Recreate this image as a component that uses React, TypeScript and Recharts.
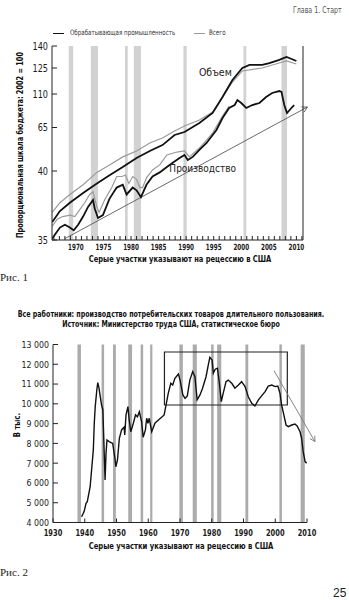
import React from "react";
import { LineChart, Line, XAxis, YAxis, ReferenceArea, ReferenceLine, ReferenceDot } from "recharts";

const NARROW = '"Liberation Sans Narrow", "DejaVu Sans Condensed", "Roboto", sans-serif';
const SERIF = '"Liberation Serif", "DejaVu Serif", serif';

// ---- Рис. 1 ----
// [год, индекс]
const capacityMfg: [number, number][] = [
  [1965.7, 36.3], [1967.1, 37.1], [1968.9, 37.7], [1971.3, 38.4], [1973.8, 39.1], [1976.1, 39.7],
  [1978.5, 42.3], [1981.0, 47.5], [1983.4, 51.5], [1985.7, 54.9], [1987.9, 60.7], [1989.7, 62.4],
  [1992.4, 71.0], [1994.8, 84.5], [1996.6, 106.0], [1998.4, 118.1], [2000.2, 125.0], [2001.5, 127.1],
  [2003.8, 127.1], [2005.1, 128.4], [2006.9, 130.5], [2008.2, 132.5], [2008.7, 131.8], [2010.0, 129.8],
];
const capacityAll: [number, number][] = [
  [1965.7, 37.0], [1967.1, 37.7], [1968.9, 38.3], [1971.3, 39.0], [1973.8, 39.9], [1976.1, 43.5],
  [1978.5, 48.1], [1981.0, 51.5], [1983.4, 56.1], [1985.7, 59.0], [1987.9, 63.0], [1989.7, 67.0],
  [1992.4, 75.1], [1994.8, 85.8], [1996.6, 106.0], [1998.4, 116.9], [2000.2, 123.3], [2003.8, 125.0],
  [2006.9, 128.4], [2008.2, 129.8], [2010.0, 127.7],
];
const outputMfg: [number, number][] = [
  [1965.7, 35.1], [1966.2, 35.4], [1967.1, 35.9], [1968.0, 36.1], [1968.9, 35.9], [1969.6, 35.7],
  [1970.4, 36.1], [1971.3, 36.7], [1972.2, 37.4], [1973.1, 37.9], [1973.4, 37.3], [1974.0, 36.6],
  [1974.9, 36.8], [1976.1, 38.0], [1977.4, 38.8], [1978.5, 39.0], [1979.2, 38.3], [1980.3, 38.8],
  [1981.0, 38.6], [1981.8, 38.1], [1982.8, 39.0], [1983.9, 39.6], [1985.2, 39.9], [1986.5, 42.3],
  [1987.5, 44.6], [1988.8, 47.5], [1989.7, 49.2], [1990.3, 46.3], [1991.2, 48.1], [1992.4, 52.1],
  [1993.7, 56.1], [1995.5, 63.6], [1996.6, 77.8], [1997.8, 91.2], [1998.8, 95.2], [1999.3, 101.9],
  [2000.0, 97.9], [2000.9, 91.2], [2002.0, 95.2], [2003.3, 97.9], [2004.5, 106.0], [2005.6, 110.6],
  [2006.9, 111.7], [2007.3, 111.2], [2007.8, 95.2], [2008.3, 84.5], [2009.1, 91.2], [2009.6, 95.2],
];
const outputAll: [number, number][] = [
  [1965.7, 36.0], [1966.6, 36.5], [1967.6, 36.7], [1968.9, 36.8], [1969.8, 36.7], [1970.7, 37.2],
  [1971.6, 37.7], [1972.5, 38.3], [1973.1, 38.5], [1973.8, 37.4], [1974.2, 37.0], [1975.2, 37.9],
  [1976.5, 38.8], [1977.4, 39.6], [1978.3, 39.6], [1979.0, 39.7], [1979.6, 39.1], [1980.3, 39.6],
  [1981.0, 39.4], [1981.6, 38.8], [1982.1, 38.8], [1982.8, 39.5], [1983.9, 40.6], [1985.2, 43.5],
  [1986.5, 49.2], [1988.3, 50.9], [1989.7, 51.5], [1990.6, 48.1], [1992.4, 53.2], [1994.8, 61.8],
  [1996.6, 80.5], [1997.8, 93.9],
];
const trend1: [number, number][] = [[1968.0, 35.1], [2012.0, 92.5]];
const recessions1: [number, number][] = [
  [1968.7, 1969.5], [1972.7, 1974.0], [1978.9, 1979.4], [1980.5, 1981.8],
  [1989.5, 1990.1], [2000.4, 2000.9], [2007.3, 2008.3],
];
const yLabels1 = [35, 40, 65, 110, 125, 140];
const years1 = Array.from({ length: 46 }, (_, i) => 1966 + i);

// ---- Рис. 2 ----
// [год, тыс. работников]
const durableWorkers: [number, number][] = [
  [1939.0, 4290], [1939.8, 4550], [1940.4, 4970], [1940.8, 5050], [1941.7, 5810], [1942.2, 6740],
  [1942.7, 7670], [1943.0, 9020], [1943.3, 9860], [1943.8, 10700], [1944.1, 11070], [1944.5, 10790],
  [1944.8, 10450], [1945.3, 9940], [1945.7, 9690], [1946.1, 7670], [1946.4, 6150], [1946.7, 7500],
  [1947.0, 8170], [1947.7, 8090], [1948.3, 8040], [1948.8, 8000], [1949.5, 7250], [1949.8, 6820],
  [1950.3, 7160], [1950.9, 8260], [1951.6, 8680], [1952.4, 8820], [1952.6, 8430], [1953.0, 9440],
  [1953.6, 9860], [1954.0, 9180], [1954.5, 8590], [1955.3, 9020], [1956.0, 9440], [1956.6, 9350],
  [1957.2, 9600], [1957.9, 9100], [1958.4, 8310], [1959.1, 8680], [1959.5, 9270], [1959.9, 9020],
  [1960.3, 9270], [1961.1, 8590], [1962.1, 9020], [1963.2, 9180], [1964.2, 9320], [1965.0, 9440],
  [1965.6, 9940], [1966.3, 10530], [1967.1, 11040], [1967.7, 10950], [1968.4, 11290], [1969.5, 11510],
  [1970.0, 11210], [1970.9, 10450], [1971.6, 10280], [1972.3, 10400], [1973.1, 11200], [1974.0, 11630],
  [1974.7, 11370], [1975.4, 10200], [1976.3, 10450], [1977.1, 10790], [1978.2, 11370], [1978.9, 11960],
  [1979.4, 12350], [1980.1, 12220], [1980.5, 11550], [1981.1, 11750], [1981.8, 11800], [1982.4, 11040],
  [1983.0, 10110], [1983.6, 10530], [1984.5, 11120], [1985.2, 11200], [1986.3, 11040], [1987.3, 10790],
  [1988.4, 10950], [1989.4, 11120], [1990.5, 10870], [1991.5, 10360], [1992.6, 10030], [1993.6, 9890],
  [1994.7, 10200], [1995.7, 10400], [1996.8, 10620], [1997.8, 10900], [1998.9, 10950], [2000.0, 10870],
  [2000.8, 10900], [2001.5, 10530], [2002.0, 9940], [2002.6, 9520], [2003.4, 8930], [2004.1, 8850],
  [2005.2, 8930], [2006.2, 8980], [2006.9, 8880], [2007.8, 8590], [2008.3, 8260], [2008.8, 7580],
  [2009.4, 7080], [2009.9, 7000],
];
const box2 = { x1: 1965.1, x2: 2003.8, y1: 9940, y2: 12620 };
const trend2: [number, number][] = [[1999.6, 11680], [2012.5, 8090]];
const recessions2: [number, number][] = [
  [1937.7, 1938.8], [1945.3, 1946.1], [1948.9, 1949.8], [1953.7, 1954.9], [1957.6, 1958.4],
  [1960.6, 1961.3], [1969.8, 1970.9], [1974.0, 1975.3], [1979.8, 1980.6], [1981.7, 1983.0],
  [1990.6, 1991.5], [2001.3, 2002.1], [2008.0, 2009.3],
];
const yTicks2 = [4000, 5000, 6000, 7000, 8000, 9000, 10000, 11000, 12000, 13000];
const xTicks2 = [1930, 1940, 1950, 1960, 1970, 1980, 1990, 2000, 2010];

// нелинейная шкала рис. 1 (отметки идут неравномерно)
const scaleSteps = [0, 69, 112.5, 146, 172, 194];
function toScale(v: number) {
  for (let i = 1; i < yLabels1.length; i++) {
    if (v <= yLabels1[i] || i === yLabels1.length - 1) {
      const t = (v - yLabels1[i - 1]) / (yLabels1[i] - yLabels1[i - 1]);
      return scaleSteps[i - 1] + t * (scaleSteps[i] - scaleSteps[i - 1]);
    }
  }
  return 0;
}
const fromScale = (p: number) => String(yLabels1[scaleSteps.indexOf(p)]);

const toRows1 = (s: [number, number][]) => s.map(([year, v]) => ({ year, v: toScale(v) }));
const toRows2 = (s: [number, number][]) => s.map(([year, v]) => ({ year, v }));

function Arrow(props: any) {
  const { x1, y1, x2, y2, stroke, strokeWidth } = props;
  const a = Math.atan2(y2 - y1, x2 - x1);
  const len = 6;
  const w = 0.5;
  const p1 = `${x2 - len * Math.cos(a - w)},${y2 - len * Math.sin(a - w)}`;
  const p2 = `${x2 - len * Math.cos(a + w)},${y2 - len * Math.sin(a + w)}`;
  return (
    <g>
      <line x1={x1} y1={y1} x2={x2} y2={y2} stroke={stroke} strokeWidth={strokeWidth} />
      <polyline points={`${p1} ${x2},${y2} ${p2}`} fill="none" stroke={stroke} strokeWidth={strokeWidth} />
    </g>
  );
}

// узкие подписи делений (в оригинале сжатый шрифт)
function makeTick(opts: { anchor: "middle" | "end"; dy: string; size: number; weight: number; sx: number; fmt?: (v: number) => string }) {
  return (props: any) => {
    const { x, y, payload } = props;
    const label = opts.fmt ? opts.fmt(payload.value) : String(payload.value);
    if (!label) return <g />;
    return (
      <g transform={`translate(${x},${y}) scale(${opts.sx},1)`}>
        <text
          x={0} y={0} dy={opts.dy} textAnchor={opts.anchor}
          fontFamily={NARROW} fontSize={opts.size} fontWeight={opts.weight} fill="#1a1a1a"
        >
          {label}
        </text>
      </g>
    );
  };
}

function Txt({ x, y, sx = 1, children, style }: { x: number; y: number; sx?: number; children: React.ReactNode; style?: React.CSSProperties }) {
  return (
    <div
      style={{
        position: "absolute", left: x, top: y, whiteSpace: "nowrap", lineHeight: 1,
        transform: `scaleX(${sx})`, transformOrigin: "left center", ...style,
      }}
    >
      {children}
    </div>
  );
}

function Centered({ x, y, rotate = 0, sx = 1, children, style }: { x: number; y: number; rotate?: number; sx?: number; children: React.ReactNode; style?: React.CSSProperties }) {
  return (
    <div
      style={{
        position: "absolute", left: x, top: y, whiteSpace: "nowrap", lineHeight: 1,
        transform: `translate(-50%, -50%) rotate(${rotate}deg) scaleX(${sx})`, ...style,
      }}
    >
      {children}
    </div>
  );
}

const bold: React.CSSProperties = { fontFamily: NARROW, fontWeight: 700, color: "#111" };

const xTick1 = makeTick({ anchor: "middle", dy: "0.71em", size: 8.5, weight: 700, sx: 0.74, fmt: (y) => (y % 5 === 0 ? String(y) : "") });
const yTick1 = makeTick({ anchor: "end", dy: "0.355em", size: 10, weight: 400, sx: 0.9, fmt: fromScale });
const xTick2 = makeTick({ anchor: "middle", dy: "0.71em", size: 9.5, weight: 700, sx: 0.78 });
const yTick2 = makeTick({ anchor: "end", dy: "0.355em", size: 9.5, weight: 400, sx: 0.92, fmt: (v) => v.toLocaleString("ru-RU").replace(/\s/g, " ") });

function Figure1() {
  return (
    <LineChart width={349} height={256} margin={{ top: 46, right: 36, bottom: 0, left: 22 }}>
      <XAxis
        dataKey="year" type="number" domain={[1965.66, 2011.2]} allowDataOverflow
        ticks={years1} interval={0} height={16}
        tickSize={-4} tickMargin={8} tick={xTick1} stroke="#222"
      />
      <YAxis
        yAxisId="l" type="number" domain={[0, 194]} ticks={scaleSteps} interval={0} width={30}
        tickSize={-5} tickMargin={9} tick={yTick1} stroke="#222"
      />
      <YAxis
        yAxisId="r" orientation="right" type="number" domain={[0, 194]} ticks={scaleSteps.slice(1)}
        interval={0} width={10} tick={false} tickSize={-5} stroke="#222"
      />
      {recessions1.map(([a, b]) => (
        <ReferenceArea key={a} yAxisId="l" x1={a} x2={b} fill="#d2d2d2" fillOpacity={1} stroke="none" />
      ))}
      <ReferenceLine
        yAxisId="l" ifOverflow="visible" stroke="#444" strokeWidth={0.8}
        segment={trend1.map(([x, v]) => ({ x, y: toScale(v) }))}
        shape={Arrow}
      />
      <Line yAxisId="l" data={toRows1(capacityAll)} dataKey="v" stroke="#9a9a9a" strokeWidth={1.2} dot={false} isAnimationActive={false} />
      <Line yAxisId="l" data={toRows1(outputAll)} dataKey="v" stroke="#9a9a9a" strokeWidth={1.2} dot={false} isAnimationActive={false} />
      <Line yAxisId="l" data={toRows1(capacityMfg)} dataKey="v" stroke="#111" strokeWidth={1.8} dot={false} isAnimationActive={false} />
      <Line yAxisId="l" data={toRows1(outputMfg)} dataKey="v" stroke="#111" strokeWidth={1.8} dot={false} isAnimationActive={false} />
      <ReferenceDot
        yAxisId="l" x={1995.3} y={toScale(122.3)} r={1} fill="none" stroke="none"
        label={{ value: "Объем", position: "center", fill: "#222", fontSize: 10.5, fontFamily: NARROW }}
      />
      <ReferenceDot
        yAxisId="l" x={1993.0} y={toScale(41.7)} r={1} fill="none" stroke="none"
        label={{ value: "Производство", position: "center", fill: "#222", fontSize: 10, fontFamily: NARROW }}
      />
    </LineChart>
  );
}

function Figure2() {
  return (
    <LineChart width={349} height={215} margin={{ top: 14.5, right: 42, bottom: 2.5, left: 13 }}>
      <XAxis
        dataKey="year" type="number" domain={[1930, 2010]} allowDataOverflow
        ticks={xTicks2} interval={0} height={20} tickSize={-4} tickMargin={11}
        tick={xTick2} stroke="#222"
      />
      <YAxis
        type="number" domain={[4000, 13000]} ticks={yTicks2} interval={0} width={40}
        tickSize={-5} tickMargin={9} tick={yTick2} stroke="#222"
      />
      {recessions2.map(([a, b]) => (
        <ReferenceArea key={a} x1={a} x2={b} fill="#ababab" fillOpacity={1} stroke="none" />
      ))}
      <ReferenceArea x1={box2.x1} x2={box2.x2} y1={box2.y1} y2={box2.y2} fill="none" stroke="#222" strokeWidth={1.2} />
      <ReferenceLine
        ifOverflow="visible" stroke="#777" strokeWidth={0.9}
        segment={trend2.map(([x, y]) => ({ x, y }))}
        shape={Arrow}
      />
      <Line data={toRows2(durableWorkers)} dataKey="v" stroke="#111" strokeWidth={1.4} dot={false} isAnimationActive={false} />
    </LineChart>
  );
}

export default function App() {
  return (
    <div style={{ position: "absolute", left: 0, top: 0, width: 349, height: 600, background: "#fff", overflow: "hidden" }}>
      <Txt x={293} y={6} sx={0.82} style={{ fontFamily: NARROW, fontSize: 8.5, color: "#555" }}>Глава 1. Старт</Txt>

      {/* легенда */}
      <div style={{ position: "absolute", left: 53, top: 32.5, width: 11, height: 1.6, background: "#111" }} />
      <Txt x={70} y={29} sx={0.82} style={{ fontFamily: NARROW, fontSize: 7.5, color: "#333" }}>Обрабатывающая промышленность</Txt>
      <div style={{ position: "absolute", left: 194, top: 32.5, width: 11, height: 1.2, background: "#9a9a9a" }} />
      <Txt x={209} y={29} sx={0.82} style={{ fontFamily: NARROW, fontSize: 7.5, color: "#333" }}>Всего</Txt>

      <div style={{ position: "absolute", left: 0, top: 0 }}>
        <Figure1 />
      </div>
      <Centered x={20} y={145} rotate={-90} sx={0.86} style={{ ...bold, fontSize: 8.5 }}>
        Пропорциональная шкала бюджета: 2002 = 100
      </Centered>
      <Centered x={180} y={258.5} sx={0.88} style={{ ...bold, fontSize: 8.5 }}>
        Серые участки указывают на рецессию в США
      </Centered>
      <Txt x={0} y={272} style={{ fontFamily: SERIF, fontSize: 11, color: "#222" }}>Рис. 1</Txt>

      <Centered x={170.5} y={314} sx={0.84} style={{ ...bold, fontSize: 8.4 }}>
        Все работники: производство потребительских товаров длительного пользования.
      </Centered>
      <Centered x={170.5} y={324} sx={0.84} style={{ ...bold, fontSize: 8.4 }}>
        Источник: Министерство труда США, статистическое бюро
      </Centered>
      <div style={{ position: "absolute", left: 0, top: 330 }}>
        <Figure2 />
      </div>
      <Centered x={17} y={425} rotate={-90} sx={0.86} style={{ ...bold, fontSize: 8.8 }}>В тыс.</Centered>
      <Centered x={181} y={545.5} sx={0.86} style={{ ...bold, fontSize: 8.8 }}>
        Серые участки указывают на рецессию в США
      </Centered>
      <Txt x={0} y={567} style={{ fontFamily: SERIF, fontSize: 11, color: "#222" }}>Рис. 2</Txt>
      <Txt x={333} y={587} style={{ fontFamily: '"Liberation Sans", Arial, sans-serif', fontSize: 12, color: "#222" }}>25</Txt>
    </div>
  );
}
